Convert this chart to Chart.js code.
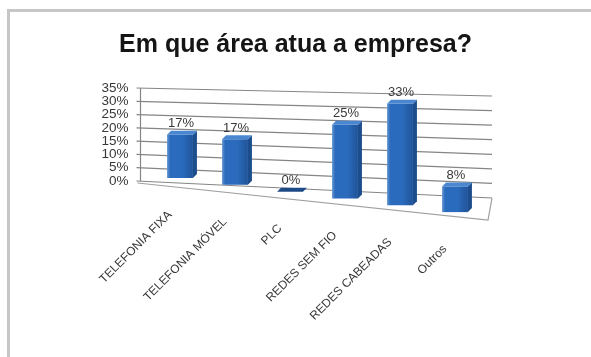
<!DOCTYPE html>
<html>
<head>
<meta charset="utf-8">
<script src="https://cdn.jsdelivr.net/npm/chart.js@4.4.0/dist/chart.umd.min.js"></script>
<style>
  html, body { margin: 0; padding: 0; background: #fff; }
  #wrap { position: relative; width: 591px; height: 357px; overflow: hidden; }
  #frame { position: absolute; left: 7px; top: 9px; width: 620px; height: 400px;
           border-top: 3px solid #c6c6c6; border-left: 3px solid #c6c6c6; }
  canvas { position: absolute; left: 0; top: 0; }
</style>
</head>
<body>
<div id="wrap">
  <div id="frame"></div>
  <canvas id="chart" width="591" height="357"></canvas>
</div>
<script>
const chartTitle = "Em que área atua a empresa?";
const categories = ["TELEFONIA FIXA", "TELEFONIA MÓVEL", "PLC", "REDES SEM FIO", "REDES CABEADAS", "Outros"];
const percentages = [17, 17, 0, 25, 33, 8];
const yTicks = [0, 5, 10, 15, 20, 25, 30, 35];

const FONT = "'Liberation Sans', Arial, sans-serif";
const TEXT = "#383838";

// fake 3D: wall, floor and bars are drawn in a simple perspective
const perspective = {
  id: "perspective",
  beforeDatasetsDraw(chart) {
    const { ctx, chartArea: ca } = chart;
    const ys = chart.scales.y;
    const xl = ca.left - 12, xr = ca.right + 9.5;
    const flatPx = (ca.bottom - ca.top) / 35;

    function wallY(v, x) {
      const yl = ys.getPixelForValue(v);
      const yr = ca.top + 8 + (yl - ca.top) * 1.097;
      return yl + (x - xl) / (xr - xl) * (yr - yl);
    }
    const x0 = ca.left + 27.5;
    const bottomY = (x) => ca.bottom - 3 + 0.124 * (x - x0);
    const pxPerPct = (x) => 2.55 + 0.0024 * (x - x0);

    // back wall grid
    ctx.save();
    ctx.strokeStyle = "#858585";
    ctx.lineWidth = 1.2;
    yTicks.forEach((v) => {
      ctx.beginPath();
      ctx.moveTo(xl - 4, wallY(v, xl));
      ctx.lineTo(xr, wallY(v, xr));
      ctx.stroke();
    });
    ctx.beginPath();
    ctx.moveTo(xl, wallY(35, xl));
    ctx.lineTo(xl, wallY(0, xl));
    ctx.stroke();

    // floor outline
    ctx.strokeStyle = "#a0a0a0";
    ctx.beginPath();
    ctx.moveTo(xl - 3, ca.bottom + 2);
    ctx.lineTo(xr - 4, ca.bottom + 39);
    ctx.lineTo(xr, wallY(0, xr));
    ctx.stroke();
    ctx.restore();

    const meta = chart.getDatasetMeta(0);
    meta.data.forEach((el, i) => {
      const by = bottomY(el.x);
      const sy = pxPerPct(el.x) / flatPx;
      const yTop = by + sy * (el.y - el.base);
      const w = el.width, bx0 = el.x - w / 2, bx1 = el.x + w / 2;
      const dx = 4, dy = -4;

      // front face by the library element
      ctx.save();
      ctx.translate(0, by);
      ctx.scale(1, sy);
      ctx.translate(0, -el.base);
      el.draw(ctx, ca);
      ctx.restore();

      ctx.save();
      if (by - yTop > 0.5) {
        const g = ctx.createLinearGradient(bx0, 0, bx1, 0);
        g.addColorStop(0, "rgba(255,255,255,0.30)");
        g.addColorStop(0.12, "rgba(255,255,255,0)");
        g.addColorStop(0.6, "rgba(0,0,0,0)");
        g.addColorStop(1, "rgba(0,0,30,0.22)");
        ctx.fillStyle = g;
        ctx.fillRect(bx0, yTop, w, by - yTop);
      }
      // side face
      ctx.fillStyle = "#1c4d8c";
      ctx.beginPath();
      ctx.moveTo(bx1, yTop);
      ctx.lineTo(bx1 + dx, yTop + dy);
      ctx.lineTo(bx1 + dx, by + dy);
      ctx.lineTo(bx1, by);
      ctx.closePath();
      ctx.fill();
      // top face
      ctx.fillStyle = by - yTop > 0.5 ? "#4a87d0" : "#1d4a86";
      ctx.beginPath();
      ctx.moveTo(bx0, yTop);
      ctx.lineTo(bx1, yTop);
      ctx.lineTo(bx1 + dx, yTop + dy);
      ctx.lineTo(bx0 + dx, yTop + dy);
      ctx.closePath();
      ctx.fill();

      // value label
      ctx.fillStyle = TEXT;
      ctx.font = "13px " + FONT;
      ctx.textAlign = "center";
      ctx.textBaseline = "middle";
      ctx.fillText(percentages[i] + "%", el.x + 1, yTop - 11);

      // category label, rotated
      ctx.translate(el.x - 10, by + 35);
      ctx.rotate(-Math.PI / 4);
      ctx.font = "12px " + FONT;
      ctx.textAlign = "right";
      ctx.fillText(categories[i], 0, 0);
      ctx.restore();
    });
    return false;
  },
  afterDraw(chart) {
    const ctx = chart.ctx;
    ctx.save();
    ctx.fillStyle = "#151515";
    ctx.font = "bold 25px " + FONT;
    ctx.textAlign = "center";
    ctx.textBaseline = "middle";
    ctx.fillText(chartTitle, chart.width / 2, 45);
    ctx.restore();
  }
};

new Chart(document.getElementById("chart"), {
  type: "bar",
  data: {
    labels: categories,
    datasets: [{
      data: percentages,
      backgroundColor: "#2a6bbd",
      borderWidth: 0,
      barPercentage: 0.47,
      categoryPercentage: 1
    }]
  },
  options: {
    responsive: false,
    animation: false,
    devicePixelRatio: 1,
    layout: { padding: { left: 82.5, right: 108.5, top: 88, bottom: 176 } },
    plugins: {
      legend: { display: false },
      tooltip: { enabled: false },
      title: { display: false }
    },
    scales: {
      x: { display: false },
      y: {
        min: 0,
        max: 35,
        afterBuildTicks: (s) => { s.ticks = yTicks.map((v) => ({ value: v })); },
        afterFit: (s) => { s.width = 70; },
        grid: { display: false, drawTicks: false },
        border: { display: false },
        ticks: {
          autoSkip: false,
          padding: 24,
          color: TEXT,
          font: { family: FONT, size: 13.5 },
          callback: (v) => v + "%"
        }
      }
    }
  },
  plugins: [perspective]
});
</script>
</body>
</html>
